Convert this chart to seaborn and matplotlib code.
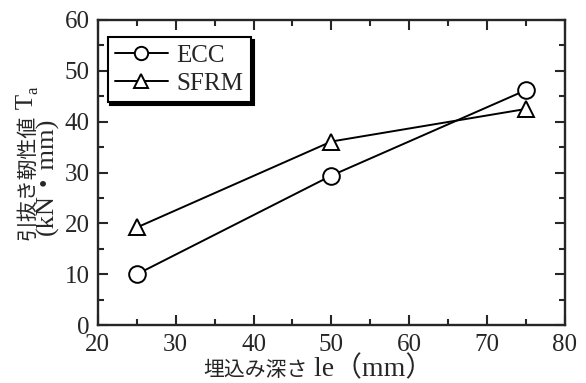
import pandas as pd
import matplotlib.pyplot as plt
import seaborn as sns
from matplotlib.ticker import MultipleLocator
from matplotlib.transforms import IdentityTransform

# data
depth = [25, 50, 75]
ecc = [10.0, 29.4, 46.2]
sfrm = [19.2, 36.1, 42.5]

df = pd.DataFrame({
    'depth': depth * 2,
    'Ta': ecc + sfrm,
    'type': ['ECC'] * 3 + ['SFRM'] * 3,
})

sns.set_style("ticks")
plt.rcParams['font.family'] = ['Liberation Serif', 'Noto Sans CJK JP']

W, H = 586, 383
fig = plt.figure(figsize=(W / 100, H / 100), dpi=100)
ax = fig.add_axes([0.167, 0.151, 0.797, 0.797])

markers = {'ECC': 'o', 'SFRM': '^'}
for name, grp in df.groupby('type'):
    sns.lineplot(data=grp, x='depth', y='Ta', ax=ax, color='black',
                 linewidth=1.4, marker=markers[name], markersize=12,
                 markerfacecolor='white', markeredgecolor='black',
                 markeredgewidth=1.4, label=name)

ax.set_xlim(20, 80)
ax.set_ylim(0, 60)
ax.xaxis.set_major_locator(MultipleLocator(10))
ax.xaxis.set_minor_locator(MultipleLocator(5))
ax.yaxis.set_major_locator(MultipleLocator(10))
ax.yaxis.set_minor_locator(MultipleLocator(5))
ax.tick_params(which='both', direction='in', top=True, right=True,
               width=1.5, labelsize=18)
ax.tick_params(axis='x', pad=6)
ax.tick_params(axis='y', pad=6)
ax.tick_params(which='major', length=7)
ax.tick_params(which='minor', length=4)
for s in ax.spines.values():
    s.set_linewidth(1.7)
ax.set_xlabel('')
ax.set_ylabel('')

leg = ax.legend(loc='upper left', bbox_to_anchor=(0.021, 0.944), fontsize=18,
                frameon=True, fancybox=False,
                shadow={'color': 'black', 'alpha': 1}, handlelength=2.1,
                borderpad=0.3, labelspacing=0.2, handletextpad=0.35,
                borderaxespad=0, markerscale=0.8)
leg.get_frame().set_edgecolor('black')
leg.get_frame().set_linewidth(1.5)
leg.get_frame().set_alpha(1)

# axis labels: Japanese and latin parts in different sizes, laid out piece by piece
cjk = ['Noto Sans CJK JP']
lat = ['Liberation Serif', 'Noto Sans CJK JP']
renderer = fig.canvas.get_renderer()


def text_run(pieces, x, y, vertical=False):
    pos = y if vertical else x
    for s, size, fam, shift in pieces:
        if vertical:
            t = fig.text(x + shift, pos, s, transform=IdentityTransform(),
                         fontsize=size, family=fam, rotation=90,
                         rotation_mode='anchor', ha='left', va='baseline')
            pos = t.get_window_extent(renderer).y1
        else:
            t = fig.text(pos, y - shift, s, transform=IdentityTransform(),
                         fontsize=size, family=fam, ha='left', va='baseline')
            pos = t.get_window_extent(renderer).x1


# x label: 埋込み深さ le（mm）
text_run([('埋込み深さ', 15, cjk, 0), (' le（mm）', 20, lat, 0)], 203, H - 376)

# y label line 1: 引抜き靭性値 T_a
text_run([('引抜き靭性値', 15, cjk, 0), (' T', 18, lat, 0), ('a', 12, lat, 4)],
         33, H - 240, vertical=True)
# y label line 2: (kN・mm)
text_run([('(kN・mm)', 19, lat, 0)], 53, H - 235, vertical=True)

plt.savefig('out.png', dpi=100)
plt.close()
